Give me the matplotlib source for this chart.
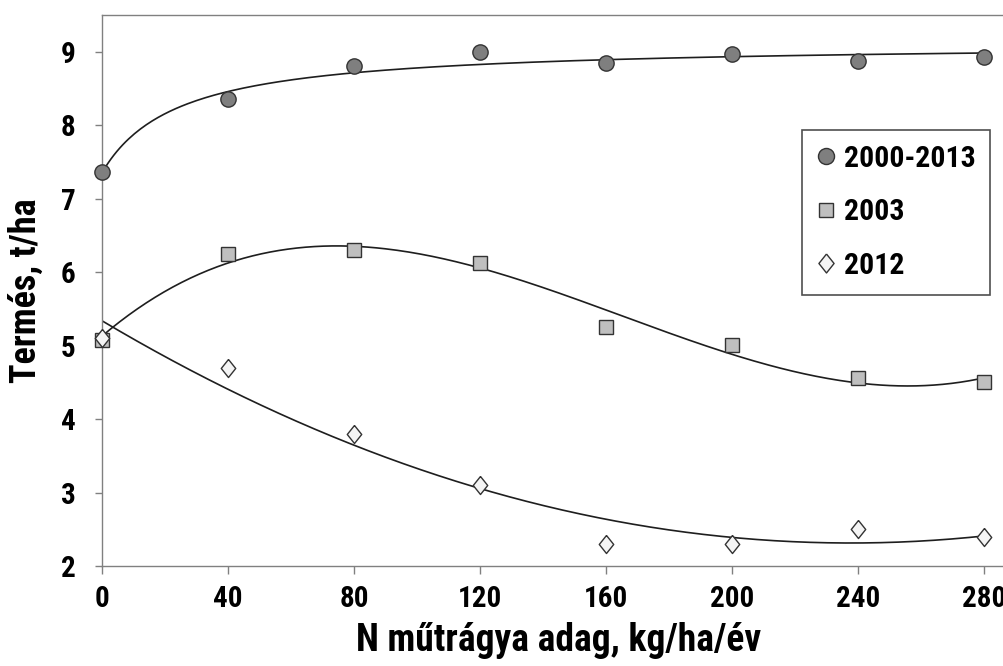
import numpy as np
import matplotlib.pyplot as plt
from matplotlib import font_manager

# N doses, kg/ha/year
n_dose = [0, 40, 80, 120, 160, 200, 240, 280]
y_2000_2013 = [7.36, 8.35, 8.80, 9.00, 8.84, 8.97, 8.87, 8.93]
y_2003 = [5.07, 6.25, 6.30, 6.13, 5.25, 5.01, 4.56, 4.51]
y_2012 = [5.10, 4.69, 3.80, 3.10, 2.30, 2.30, 2.50, 2.40]

x_ticks = [0, 40, 80, 120, 160, 200, 240, 280]
y_ticks = [2, 3, 4, 5, 6, 7, 8, 9]

names = set(f.name for f in font_manager.fontManager.ttflist)
fam = ['DejaVu Sans']
for cand in ['Roboto Condensed', 'Liberation Sans Narrow', 'Roboto']:
    if cand in names:
        fam = [cand, 'DejaVu Sans']
        break
plt.rcParams['font.family'] = fam
plt.rcParams['font.weight'] = 'bold'

x = np.array(n_dose, dtype=float)
xs = np.linspace(0, 280, 300)

# saturating trend for the long-term mean: y = a + b*x/(c + x)
best = None
for c in np.linspace(5, 200, 400):
    coef = np.polyfit(x / (c + x), y_2000_2013, 1)
    res = np.sum((np.polyval(coef, x / (c + x)) - y_2000_2013) ** 2)
    if best is None or res < best[0]:
        best = (res, c, coef)
_, c0, coef0 = best
fit_mean = np.polyval(coef0, xs / (c0 + xs))
fit_2003 = np.polyval(np.polyfit(x, y_2003, 3), xs)
fit_2012 = np.polyval(np.polyfit(x, y_2012, 2), xs)

fig = plt.figure(figsize=(10.04, 6.66), dpi=100)
ax = fig.add_axes([102 / 1004, 100 / 666, 290 * 3.15 / 1004, 551 / 666])

line_col = '#1e1e1e'
ax.plot(xs, fit_mean, color=line_col, lw=1.2, zorder=2)
ax.plot(xs, fit_2003, color=line_col, lw=1.2, zorder=2)
ax.plot(xs, fit_2012, color=line_col, lw=1.2, zorder=2)

diamond = [(0, 1), (0.8, 0), (0, -1), (-0.8, 0), (0, 1)]
ax.plot(n_dose, y_2000_2013, 'o', ms=11, mfc='#7f7f7f', mec='#333333', mew=1,
        label='2000-2013', clip_on=False, zorder=3)
ax.plot(n_dose, y_2003, 's', ms=10, mfc='#bfbfbf', mec='#333333', mew=1,
        label='2003', clip_on=False, zorder=3)
ax.plot(n_dose, y_2012, marker=diamond, ls='none', ms=13, mfc='#f4f4f4',
        mec='#333333', mew=1, label='2012', clip_on=False, zorder=3)

ax.set_xlim(0, 290)
ax.set_ylim(2, 9.5)
ax.set_xticks(x_ticks)
ax.set_yticks(y_ticks)
ax.tick_params(axis='y', direction='out', length=5, width=1, color='#808080',
               labelsize=21, pad=14)
ax.tick_params(axis='x', direction='out', length=6, width=1, color='#808080',
               labelsize=21, pad=8)
for s in ax.spines.values():
    s.set_color('#808080')
    s.set_linewidth(1)
ax.spines['right'].set_visible(False)

ax.set_xlabel('N műtrágya adag, kg/ha/év', fontsize=27, fontweight='bold', labelpad=6)
ax.set_ylabel('Termés, t/ha', fontsize=26, fontweight='bold', labelpad=12)

leg = ax.legend(loc='upper left', bbox_to_anchor=((802 - 102) / (290 * 3.15), 1 - (130 - 15) / 551),
                fontsize=21.5, frameon=True, fancybox=False, edgecolor='#222222',
                labelspacing=0.85, handlelength=0.6, handletextpad=0.3,
                borderpad=0.5, markerscale=1.05, borderaxespad=0)
leg.get_frame().set_linewidth(1.2)

fig.savefig('out.png', dpi=100)
